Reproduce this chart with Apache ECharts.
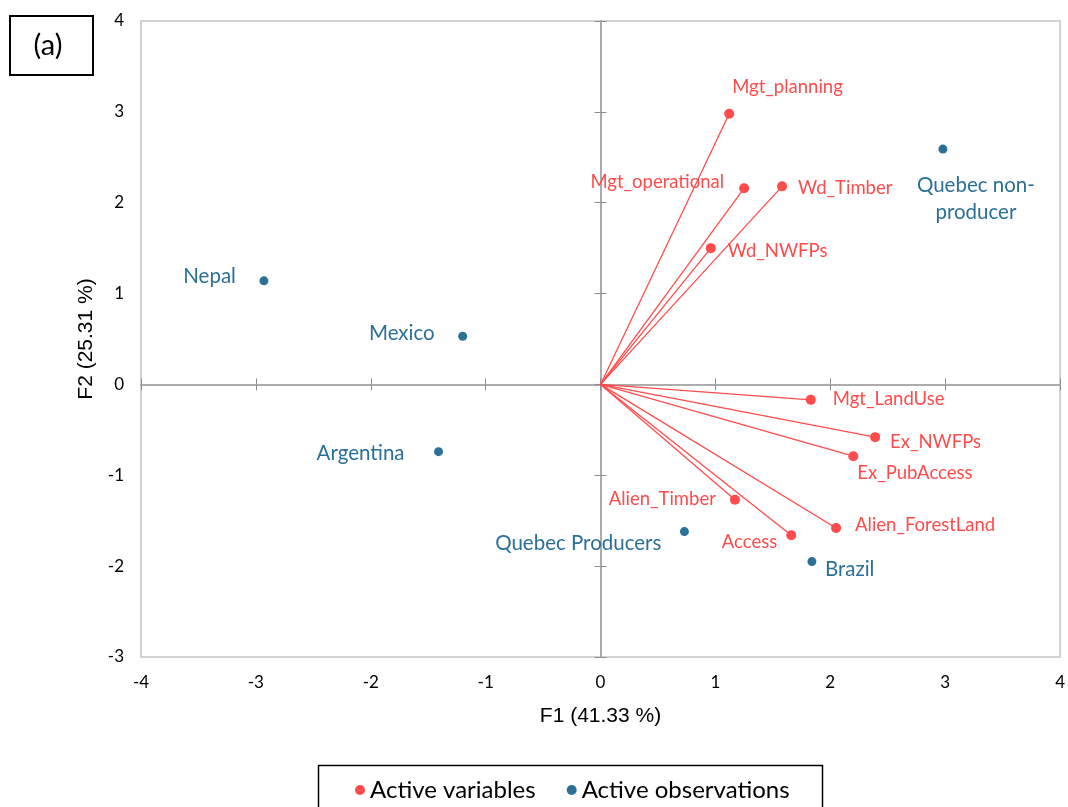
<!DOCTYPE html>
<html><head><meta charset="utf-8">
<script src="https://cdn.jsdelivr.net/npm/echarts@6/dist/echarts.min.js"></script>
<style>html,body{margin:0;padding:0;background:#fff}#c{width:1068px;height:807px}</style>
</head><body><div id="c"></div>
<script>
// ---- data ----
const variableNames = ['Mgt_planning','Mgt_operational','Wd_Timber','Wd_NWFPs','Mgt_LandUse','Ex_NWFPs','Ex_PubAccess','Alien_Timber','Access','Alien_ForestLand'];
const variableF1 = [1.12, 1.25, 1.58, 0.96, 1.83, 2.39, 2.20, 1.17, 1.66, 2.05];
const variableF2 = [2.98, 2.16, 2.18, 1.50, -0.17, -0.58, -0.79, -1.27, -1.66, -1.58];
const observationNames = ['Nepal','Mexico','Argentina','Quebec non-\nproducer','Quebec Producers','Brazil'];
const observationF1 = [-2.93, -1.20, -1.41, 2.98, 0.73, 1.84];
const observationF2 = [1.14, 0.53, -0.74, 2.59, -1.62, -1.95];
const xTickLabels = ['-4','-3','-2','-1','0','1','2','3','4'];
const yTickLabels = ['-3','-2','-1','0','1','2','3','4'];
const xTitle = 'F1 (41.33 %)';
const yTitle = 'F2 (25.31 %)';
const legendNames = ['Active variables','Active observations'];
const panelTag = '(a)';

// ---- label placement (style only) ----
const labelPlace = {
  'Mgt_planning': ['left', 3, -27],
  'Mgt_operational': ['right', -20, -6],
  'Wd_Timber': ['left', 16, 2],
  'Wd_NWFPs': ['left', 17, 3],
  'Mgt_LandUse': ['left', 22, -1],
  'Ex_NWFPs': ['left', 15, 5],
  'Ex_PubAccess': ['left', 4, 17],
  'Alien_Timber': ['right', -19, -1],
  'Access': ['right', -14, 7],
  'Alien_ForestLand': ['left', 19, -3],
  'Nepal': ['right', -28, -4],
  'Mexico': ['right', -28, -3],
  'Argentina': ['right', -34, 2],
  'Quebec non-\nproducer': ['center', 33, 50],
  'Quebec Producers': ['right', -23, 12],
  'Brazil': ['left', 13, 8]
};

const RED = '#ff4b4b';
const BLUE = '#2b7096';
const LABEL_FONT = 'Lato, "Open Sans", sans-serif';

function pointData(names, xs, ys) {
  return names.map((n, i) => {
    const p = labelPlace[n];
    return {
      name: n, value: [xs[i], ys[i]],
      label: { show: true, formatter: n, position: 'inside', align: p[0], verticalAlign: 'middle', offset: [p[1], p[2]] }
    };
  });
}

const lineSeries = variableNames.map((n, i) => ({
  type: 'line', name: 'vec_' + n, silent: true, symbol: 'none', z: 1,
  data: [[0, 0], [variableF1[i], variableF2[i]]],
  lineStyle: { color: RED, width: 1.3 }, animation: false
}));

const xMin = +xTickLabels[0], xMax = +xTickLabels[xTickLabels.length - 1];
const yMin = +yTickLabels[0], yMax = +yTickLabels[yTickLabels.length - 1];

function zeroAxis(inside) {
  return {
    type: 'value', interval: 1,
    axisLine: { show: true, onZero: true, lineStyle: { color: '#a6a6a6', width: 1.5 } },
    axisTick: { show: true, inside: inside, length: 6, lineStyle: { color: '#8c8c8c', width: 1 } },
    axisLabel: { show: false }, splitLine: { show: false }
  };
}

const xZeroIn = Object.assign(zeroAxis(true), { min: xMin, max: xMax, position: 'bottom' });
const xZeroOut = Object.assign(zeroAxis(false), { min: xMin, max: xMax, position: 'bottom' });
const yZeroIn = Object.assign(zeroAxis(true), { min: yMin, max: yMax, position: 'left' });
const yZeroOut = Object.assign(zeroAxis(false), { min: yMin, max: yMax, position: 'left' });

const tickFont = { fontSize: 17, color: '#000', fontFamily: LABEL_FONT };
const titleFont = { fontSize: 21, color: '#000', fontFamily: '"Liberation Sans", Arial, sans-serif' };

const option = {
  animation: false,
  backgroundColor: '#fff',
  grid: { left: 141, right: 6, top: 21, bottom: 150, show: true, borderColor: '#c4c4c4', borderWidth: 1.5 },
  xAxis: [
    { type: 'value', min: xMin, max: xMax, interval: 1, position: 'bottom',
      axisLine: { show: false, onZero: false }, axisTick: { show: false }, splitLine: { show: false },
      axisLabel: Object.assign({ margin: 17 }, tickFont),
      name: xTitle, nameLocation: 'middle', nameGap: 49, nameTextStyle: titleFont },
    xZeroIn, xZeroOut
  ],
  yAxis: [
    { type: 'value', min: yMin, max: yMax, interval: 1, position: 'left',
      axisLine: { show: false, onZero: false }, axisTick: { show: false }, splitLine: { show: false },
      axisLabel: Object.assign({ margin: 17 }, tickFont),
      name: yTitle, nameLocation: 'middle', nameGap: 41, nameRotate: 90, nameTextStyle: titleFont },
    yZeroIn, yZeroOut
  ],
  legend: {
    data: legendNames, left: 350, top: 773, icon: 'circle', itemWidth: 10, itemHeight: 10, itemGap: 31,
    textStyle: { fontSize: 24, color: '#000', fontFamily: LABEL_FONT }
  },
  graphic: [
    { type: 'rect', left: 9, top: 15, shape: { width: 83, height: 59 }, style: { fill: '#fff', stroke: '#000', lineWidth: 2 } },
    { type: 'text', x: 48, y: 46, style: { text: panelTag, textAlign: 'center', textVerticalAlign: 'middle', fontSize: 29, fill: '#000', fontFamily: LABEL_FONT } },
    { type: 'rect', left: 316, top: 763, shape: { width: 504, height: 60 }, style: { fill: 'none', stroke: '#000', lineWidth: 1.5 } }
  ],
  series: lineSeries.concat([
    { type: 'scatter', name: legendNames[0], symbolSize: 10, z: 3,
      itemStyle: { color: RED, opacity: 1 },
      label: { color: RED, fontSize: 18.5, fontFamily: LABEL_FONT },
      data: pointData(variableNames, variableF1, variableF2) },
    { type: 'scatter', name: legendNames[1], symbolSize: 9, z: 3,
      itemStyle: { color: BLUE, opacity: 1 },
      label: { color: BLUE, fontSize: 20.5, lineHeight: 27, fontFamily: LABEL_FONT },
      data: pointData(observationNames, observationF1, observationF2) }
  ])
};

const chart = echarts.init(document.getElementById('c'), null, { renderer: 'canvas' });
chart.setOption(option);
</script>
</body></html>
